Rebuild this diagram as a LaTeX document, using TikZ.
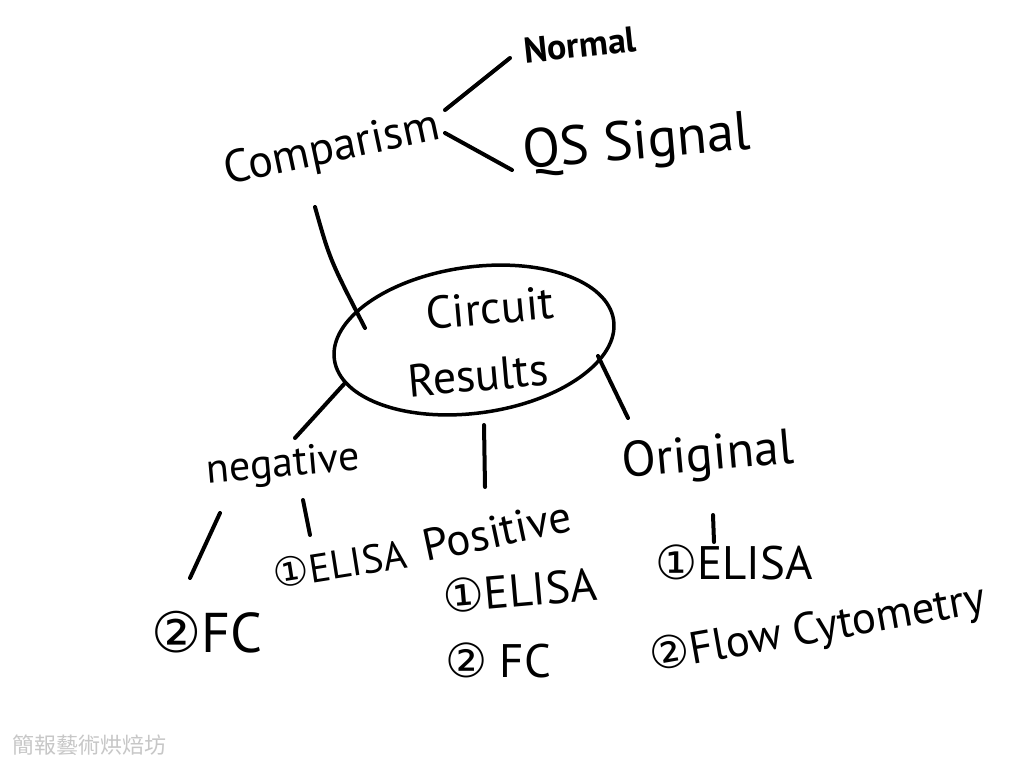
\documentclass[tikz,border=0pt]{standalone}
\usepackage{fontspec}
\setmainfont{PT Sans}
\newfontfamily\circfont{DejaVu Sans}
\newfontfamily\cjkfont{Noto Sans CJK TC}
\usetikzlibrary{shapes.geometric}
\newcommand{\cn}[1]{{\circfont #1}}
\begin{document}
\begin{tikzpicture}[x=1pt,y=1pt,
  hand/.style={inner sep=0pt, text=black},
  link/.style={line width=4pt, line cap=round, black},
]
\useasboundingbox[fill=white] (0,0) rectangle (1024,-768);

% nodes
\node[hand, rotate=6, font=\fontsize{36}{36}\selectfont\bfseries] (normal) at (580,-45) {Normal};
\node[hand, rotate=12, font=\fontsize{46}{46}\selectfont] (comp) at (332,-150) {Comparism};
\node[hand, rotate=5, font=\fontsize{55}{55}\selectfont] (qs) at (637,-145) {QS Signal};

\node[ellipse, draw, line width=3.5pt, minimum width=282pt, minimum height=146pt, rotate=8] (res) at (474,-340) {};
\node[hand, rotate=5, font=\fontsize{46}{46}\selectfont] (circuit) at (490,-308) {Circuit};
\node[hand, rotate=5, font=\fontsize{46}{46}\selectfont] (results) at (478,-375) {Results};

\node[hand, rotate=5, font=\fontsize{42}{42}\selectfont] (neg) at (283,-466) {negative};
\node[hand, font=\fontsize{56}{56}\selectfont] (negfc) at (207,-632) {\cn{②}FC};
\node[hand, rotate=9, font=\fontsize{40}{40}\selectfont] (negel) at (340,-564) {\cn{①}ELISA};

\node[hand, rotate=12, font=\fontsize{45}{45}\selectfont] (pos) at (497,-531) {Positive};
\node[hand, rotate=5, font=\fontsize{46}{46}\selectfont] (posel) at (520,-590) {\cn{①}ELISA};
\node[hand, font=\fontsize{47}{47}\selectfont] (posfc) at (498,-660) {\cn{②} FC};

\node[hand, rotate=5, font=\fontsize{50}{50}\selectfont] (orig) at (708,-458) {Original};
\node[hand, font=\fontsize{47}{47}\selectfont] (origel) at (734,-562) {\cn{①}ELISA};
\node[hand, rotate=10, font=\fontsize{45}{45}\selectfont] (origfc) at (818,-630) {\cn{②}Flow Cytometry};

\node[hand, anchor=west, text=black!22, font=\cjkfont\fontsize{22}{22}\selectfont] (wm) at (12,-745) {簡報藝術烘焙坊};

% connector end points
\coordinate (c1a) at (445,-110); \coordinate (c1b) at (510,-58);
\coordinate (c2a) at (445,-133); \coordinate (c2b) at (512,-170);
\coordinate (c3a) at (315,-207); \coordinate (c3b) at (365,-328);
\coordinate (c4a) at (345,-383); \coordinate (c4b) at (295,-438);
\coordinate (c5a) at (484,-425); \coordinate (c5b) at (485,-487);
\coordinate (c6a) at (598,-356); \coordinate (c6b) at (628,-418);
\coordinate (c7a) at (220,-513); \coordinate (c7b) at (190,-578);
\coordinate (c8a) at (303,-500); \coordinate (c8b) at (310,-535);
\coordinate (c9a) at (713,-515); \coordinate (c9b) at (714,-542);

\draw[link] (c1a) -- (c1b);
\draw[link] (c2a) -- (c2b);
\draw[link] (c3a) .. controls (330,-260) .. (c3b);
\draw[link] (c4a) -- (c4b);
\draw[link] (c5a) -- (c5b);
\draw[link] (c6a) -- (c6b);
\draw[link] (c7a) -- (c7b);
\draw[link] (c8a) -- (c8b);
\draw[link] (c9a) -- (c9b);
\end{tikzpicture}
\end{document}
